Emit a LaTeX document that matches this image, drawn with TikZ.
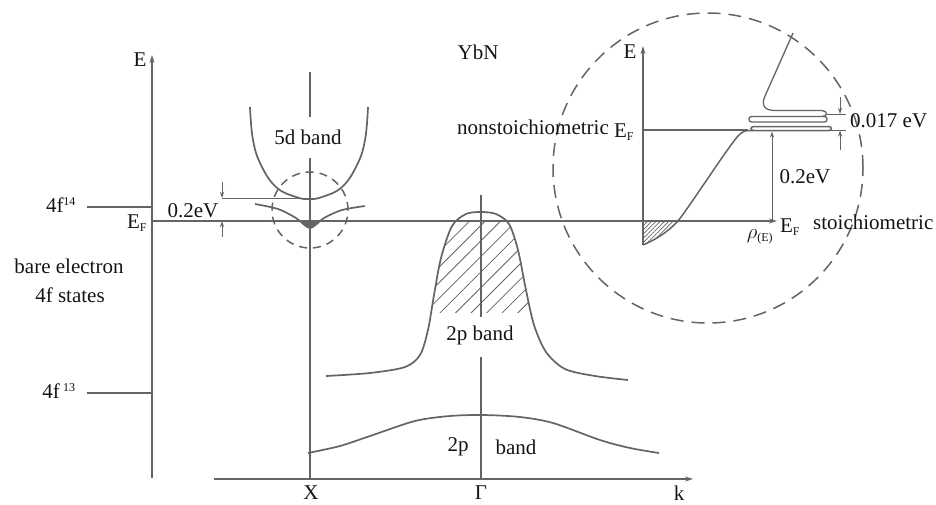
\documentclass[tikz,border=0pt]{standalone}
\usepackage{fontspec}
\setmainfont{Liberation Serif}
\usetikzlibrary{arrows.meta, patterns.meta}
\definecolor{inkgray}{RGB}{100,100,100}
\definecolor{txtgray}{RGB}{20,20,20}
\newcommand{\lblsize}{\fontsize{21}{24}\selectfont}
\newcommand{\subsize}{\fontsize{12}{12}\selectfont}
\newcommand{\bellpath}{plot[smooth] coordinates {(326,376) (370,373) (405,367) (420,355) (428,330) (434,295) (441,258) (452,226) (466,214) (481,212) (496,214) (509,224) (518,250) (526,290) (534,325) (546,352) (565,369) (595,376) (628,380)}}
\newcommand{\flatpath}{plot[smooth] coordinates {(255,204) (278,209) (296,218) (310,228) (324,218) (342,210) (365,206)}}
\tikzstyle{curve} = [draw=inkgray, line width=1.7pt]
\tikzstyle{guide} = [draw=inkgray, line width=1.3pt]
\tikzstyle{arrow} = [guide, -{Stealth[length=8pt, width=5pt]}]
\tikzstyle{dim} = [draw=inkgray, line width=1pt, -{Stealth[length=6pt, width=4pt]}]
\tikzstyle{ring} = [draw=inkgray, line width=1.5pt, dash pattern=on 13pt off 8pt]
\tikzstyle{txt} = [font=\lblsize, text=txtgray, inner sep=0pt]
\tikzstyle{hatch} = [pattern={Lines[angle=45, distance=11pt, line width=0.8pt]}, pattern color=inkgray]

\begin{document}
\begin{tikzpicture}[x=1pt, y=-1pt]
  \useasboundingbox (0,0) rectangle (936,504);

  % axes
  \coordinate (eaxbot) at (152,478);
  \coordinate (eaxtop) at (152,55);
  \coordinate (kaxl) at (214,479);
  \coordinate (kaxr) at (693,479);
  \coordinate (efl0) at (152,221);
  \coordinate (efl1) at (777,221);
  \draw [arrow] (eaxbot) -- (eaxtop);
  \draw [arrow] (kaxl) -- (kaxr);
  \draw [arrow] (efl0) -- (efl1);

  % 4f levels
  \draw [curve] (87,207) -- (152,207);
  \draw [curve] (87,393) -- (152,393);

  % X and Gamma lines
  \draw [guide] (310,72) -- (310,117);
  \draw [guide] (310,158) -- (310,478);
  \draw [guide] (481,195) -- (481,317);
  \draw [guide] (481,357) -- (481,478);

  % 5d band and flat 4f band
  \draw [curve] plot[smooth, tension=0.7] coordinates {(250,107) (253,140) (261,165) (276,187) (296,197) (309,199) (322,197) (342,187) (357,165) (365,140) (368,107)};
  \begin{scope}
    \clip (250,221) rectangle (370,245);
    \fill [inkgray] \flatpath -- (365,190) -- (255,190) -- cycle;
  \end{scope}
  \draw [curve] \flatpath;
  \draw [ring, dash pattern=on 8pt off 6pt] (310,210) circle (38pt);

  % 0.2eV gap
  \draw [guide, line width=1pt] (222,198) -- (304,198);
  \draw [dim] (222,182) -- (222,198);
  \draw [dim] (222,237) -- (222,221);

  % 2p bands
  \begin{scope}
    \clip (400,221) rectangle (560,312);
    \fill [hatch] \bellpath -- cycle;
  \end{scope}
  \draw [curve] \bellpath;
  \draw [curve] plot[smooth] coordinates {(308,453) (340,446) (370,436) (415,421) (450,416) (483,415) (520,417) (553,423) (600,440) (630,448) (659,453)};

  % inset
  \draw [ring] (708,168) circle (155pt);
  \coordinate (inbot) at (643,245);
  \coordinate (intop) at (643,46);
  \draw [arrow] (inbot) -- (intop);
  \draw [guide] (643,130) -- (748,130);
  \fill [pattern={Lines[angle=45, distance=3pt, line width=0.6pt]}, pattern color=inkgray]
    (643,221) -- (643,245) .. controls (655,240) and (668,232) .. (678,221) -- cycle;
  \draw [guide, line width=1.5pt] (643,245) .. controls (655,240) and (668,232) .. (678,221)
    .. controls (692,203) and (726,150) .. (738,136) .. controls (742,132) and (744,130.5) .. (750,130.5) -- (829,130.5)
    .. controls (832,130.5) and (832,126.5) .. (829,126.5) -- (754,126.5)
    .. controls (750,126.5) and (750,130.5) .. (754,130.5);
  \draw [guide, rounded corners=2.5pt] (749,116.5) rectangle (827,122);
  \draw [guide] (793,33) -- (765,96) .. controls (761,105) and (764,110.5) .. (775,110.5) -- (822,110.5)
    .. controls (828,111) and (828,116.5) .. (822,116.5);
  \draw [guide, line width=0.8pt] (827,114) -- (846,114);
  \draw [guide, line width=0.8pt] (830,130.5) -- (846,130.5);
  \draw [dim] (840,97) -- (840,114);
  \draw [dim] (840,150) -- (840,130.5);
  \draw [dim] (772,221) -- (772,131.5);

  % labels
  \node (ylab) [txt] at (140,60) {E};
  \node (f14) [txt] at (61,205) {4f\textsuperscript{\subsize 14}};
  \node (efleft) [txt] at (137,223) {E\textsubscript{\subsize F}};
  \node (gap1) [txt] at (193,211) {0.2eV};
  \node (d5) [txt] at (308,137) {5d band};
  \node (bare1) [txt] at (69,266) {bare electron};
  \node (bare2) [txt] at (70,295) {4f states};
  \node (f13) [txt] at (59,391) {4f\,\textsuperscript{\subsize 13}};
  \node (p2up) [txt] at (480,335) {2p band};
  \node (p2lo) [txt] at (458,447) {2p};
  \node (p2lob) [txt] at (516,447) {band};
  \node (xlab) [txt] at (311,493) {X};
  \node (glab) [txt] at (481,493) {Γ};
  \node (klab) [txt] at (679,493) {k};
  \node (ybn) [txt] at (478,52) {YbN};
  \node (einset) [txt] at (630,52) {E};
  \node (nonst) [txt, anchor=east] at (609,127) {nonstoichiometric};
  \node (efnon) [txt] at (624,132) {E\textsubscript{\subsize F}};
  \node (g017) [txt, anchor=west] at (850,121) {0.017 eV};
  \node (g02) [txt] at (805,177) {0.2eV};
  \node (efst) [txt] at (790,227) {E\textsubscript{\subsize F}};
  \node (stoi) [txt, anchor=west] at (813,222) {stoichiometric};
  \node (rho) [txt] at (760,237) {$\rho$\textsubscript{\subsize (E)}};
\end{tikzpicture}
\end{document}
